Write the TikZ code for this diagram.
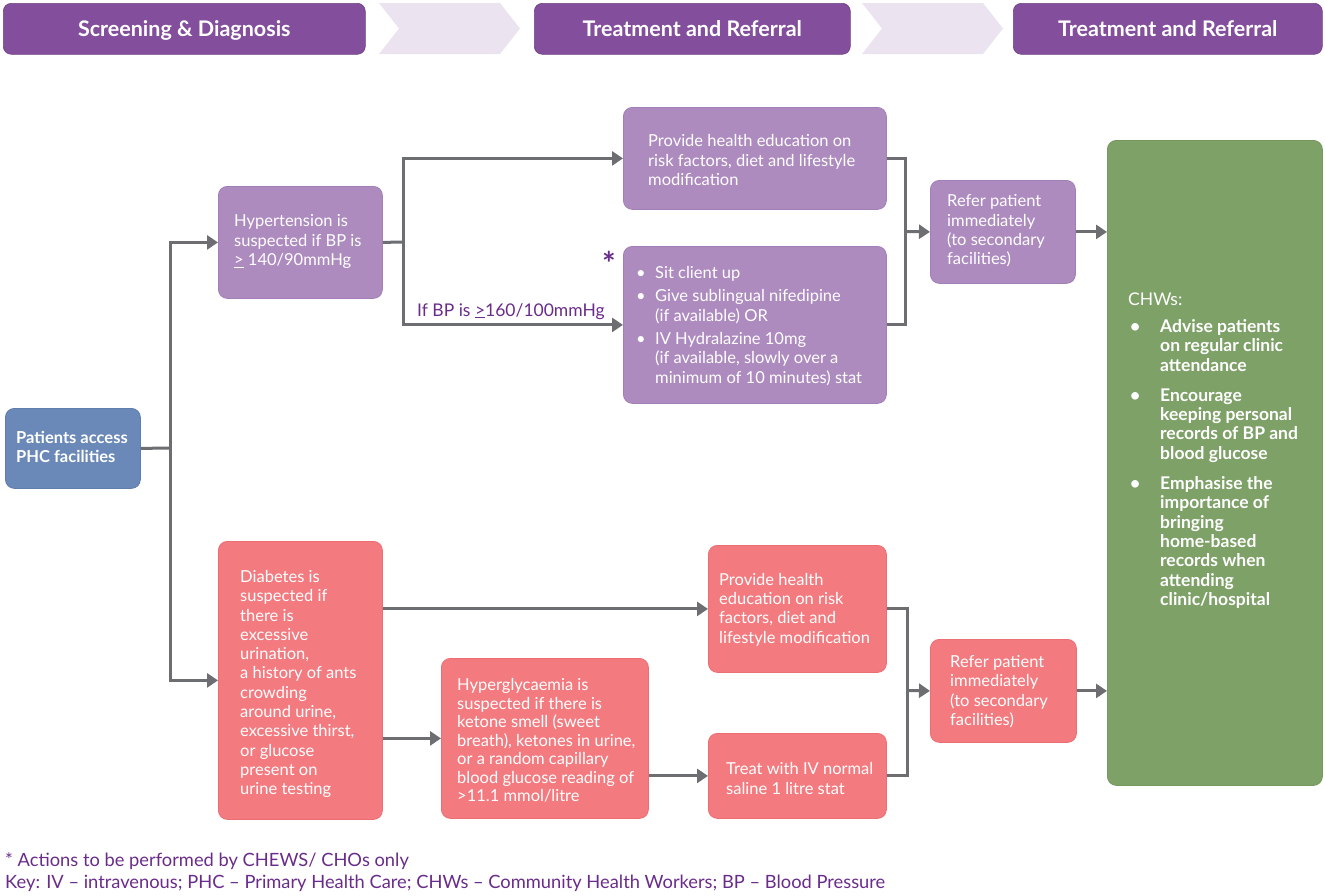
\documentclass[tikz,border=0pt]{standalone}
\usepackage{fontspec}
\setmainfont{Lato}
\usetikzlibrary{arrows.meta}
\definecolor{hdr}{HTML}{834E9B}
\definecolor{chev}{HTML}{EBE3F0}
\definecolor{pur}{HTML}{AD8BBF}
\definecolor{purd}{HTML}{A27FB6}
\definecolor{rbox}{HTML}{F37A7F}
\definecolor{rboxd}{HTML}{EC6E74}
\definecolor{grn}{HTML}{7EA168}
\definecolor{grnd}{HTML}{74985E}
\definecolor{blu}{HTML}{6A89B8}
\definecolor{blud}{HTML}{5F7EAE}
\definecolor{gry}{HTML}{6D6E71}
\definecolor{txtp}{HTML}{6A2C8A}
\newcommand{\blt}{\makebox[19pt][l]{\hspace{0pt}\textbullet}}
\newcommand{\ind}{\hspace*{19pt}}
\newcommand{\gblt}{\makebox[32pt][l]{\hspace{2pt}\textbullet}}
\newcommand{\gind}{\hspace*{32pt}}
\begin{document}
\begin{tikzpicture}[x=1pt,y=-1pt,
  box/.style={rounded corners=9pt, inner sep=0pt, anchor=north west, line width=0.8pt},
  pbox/.style={box, fill=pur, draw=purd},
  rrbox/.style={box, fill=rbox, draw=rboxd},
  hbox/.style={rounded corners=8pt, inner sep=0pt, anchor=north west, fill=hdr, draw=hdr!85!black, line width=0.6pt, minimum height=51pt, text=white, text height=18pt, text depth=2pt, font=\fontsize{21.5}{24}\selectfont\bfseries},
  tx/.style={text=white, font=\fontsize{16.5}{19.3}\selectfont, align=left, inner sep=0pt, anchor=west},
  conn/.style={draw=gry, line width=3pt},
  arr/.style={conn, -{Triangle[length=11pt,width=14pt]}},
  lab/.style={text=txtp, inner sep=0pt}
]
\useasboundingbox (0,0) rectangle (1325,895);

% header
\node[hbox, minimum width=362pt] (h1) at (3,3) {Screening \& Diagnosis};
\node[hbox, minimum width=316pt] (h2) at (534,3) {Treatment and Referral};
\node[hbox, minimum width=309pt] (h3) at (1013,3) {Treatment and Referral};
\fill[chev] (379,3) -- (500,3) -- (520,28.5) -- (500,54) -- (379,54) -- (399,28.5) -- cycle;
\fill[chev] (862,3) -- (983,3) -- (1003,28.5) -- (983,54) -- (862,54) -- (882,28.5) -- cycle;

% boxes
\node[box, fill=blu, draw=blud, minimum width=135pt, minimum height=80pt] (pat) at (5,408) {};
\node[pbox, minimum width=164pt, minimum height=112pt] (hyp) at (218,186) {};
\node[rrbox, minimum width=164pt, minimum height=278pt] (dia) at (218,541) {};
\node[pbox, minimum width=263pt, minimum height=102pt] (pedu) at (623,107) {};
\node[pbox, minimum width=263pt, minimum height=157pt] (bul) at (623,246) {};
\node[pbox, minimum width=145pt, minimum height=103pt] (rp) at (930,180) {};
\node[rrbox, minimum width=178pt, minimum height=127pt] (redu) at (708,545) {};
\node[rrbox, minimum width=207pt, minimum height=160pt] (hyg) at (441,658) {};
\node[rrbox, minimum width=178pt, minimum height=85pt] (treat) at (708,733) {};
\node[rrbox, minimum width=146pt, minimum height=103pt] (rr) at (930,639) {};
\node[box, fill=grn, draw=grnd, minimum width=215pt, minimum height=645pt] (chw) at (1107,140) {};

% texts
\node[tx, font=\fontsize{16.5}{19}\selectfont\bfseries] (pat-t) at (16,447) {Patients access\\PHC facilities};
\node[tx] (hyp-t) at (234,241.5) {Hypertension is\\suspected if BP is\\\underline{>} 140/90mmHg};
\node[tx, font=\fontsize{16.5}{19.3}\selectfont] (dia-t) at (240,684) {Diabetes is\\suspected if\\there is\\excessive\\urination,\\a history of ants\\crowding\\around urine,\\excessive thirst,\\or glucose\\present on\\urine testing};
\node[tx] (pedu-t) at (648,160) {Provide health education on\\risk factors, diet and lifestyle\\modification};
\node[tx] (bul-t) at (636,326) {\blt Sit client up\\[4pt]\blt Give sublingual nifedipine\\\ind(if available) OR\\[4pt]\blt IV Hydralazine 10mg\\\ind(if available, slowly over a\\\ind minimum of 10 minutes) stat};
\node[tx] (rp-t) at (947,231) {Refer patient\\immediately\\(to secondary\\facilities)};
\node[tx] (redu-t) at (719,609.5) {Provide health\\education on risk\\factors, diet and\\lifestyle modification};
\node[tx, font=\fontsize{16.5}{18.5}\selectfont] (hyg-t) at (457,740.5) {Hyperglycaemia is\\suspected if there is\\ketone smell (sweet\\breath), ketones in urine,\\or a random capillary\\blood glucose reading of\\>11.1 mmol/litre};
\node[tx] (treat-t) at (726,778.5) {Treat with IV normal\\saline 1 litre stat};
\node[tx] (rr-t) at (950,691.5) {Refer patient\\immediately\\(to secondary\\facilities)};
\node[tx, font=\fontsize{17.5}{19.4}\selectfont] (chw-t) at (1128,450.5) {CHWs:\\[8pt]
{\bfseries\gblt Advise patients}\\{\bfseries\gind on regular clinic}\\{\bfseries\gind attendance}\\[10.5pt]
{\bfseries\gblt Encourage}\\{\bfseries\gind keeping personal}\\{\bfseries\gind records of BP and}\\{\bfseries\gind blood glucose}\\[10.5pt]
{\bfseries\gblt Emphasise the}\\{\bfseries\gind importance of}\\{\bfseries\gind bringing}\\{\bfseries\gind home-based}\\{\bfseries\gind records when}\\{\bfseries\gind attending}\\{\bfseries\gind clinic/hospital}};

% labels
\node[lab, anchor=base west, font=\fontsize{17.5}{20}\selectfont] (bplab) at (417,316) {If BP is \underline{>}160/100mmHg};
\node[lab, font=\fontsize{32}{32}\selectfont\bfseries] (star) at (609,263) {*};
\node[lab, anchor=base west, font=\fontsize{18.3}{20}\selectfont] (foot1) at (5,866) {* Actions to be performed by CHEWS/ CHOs only};
\node[lab, anchor=base west, font=\fontsize{18.3}{20}\selectfont] (foot2) at (5,888) {Key: IV – intravenous; PHC – Primary Health Care; CHWs – Community Health Workers; BP – Blood Pressure};

% connectors
\coordinate (tr1) at (170,448);
\draw[conn] (pat.east) -- (tr1);
\draw[arr] (tr1) |- (hyp.west);
\draw[arr] (tr1) |- (dia.west);
\coordinate (tr2) at (403,242);
\draw[conn] (hyp.east) -- (tr2);
\draw[arr] (tr2) |- (pedu.west);
\draw[arr] (tr2) |- (bul.west);
\coordinate (br1) at (905,231.5);
\draw[conn] (pedu.east) -| (br1) |- (bul.east);
\draw[arr] (br1) -- (rp.west);
\draw[arr] (rp.east) -- (rp.east -| chw.west);
\draw[arr] (dia.east |- redu.west) -- (redu.west);
\draw[arr] (dia.east |- hyg.west) -- (hyg.west);
\draw[arr] (hyg.east |- treat.west) -- (treat.west);
\coordinate (br2) at (907,690.5);
\draw[conn] (redu.east) -| (br2) |- (treat.east);
\draw[arr] (br2) -- (rr.west);
\draw[arr] (rr.east) -- (rr.east -| chw.west);
\end{tikzpicture}
\end{document}
